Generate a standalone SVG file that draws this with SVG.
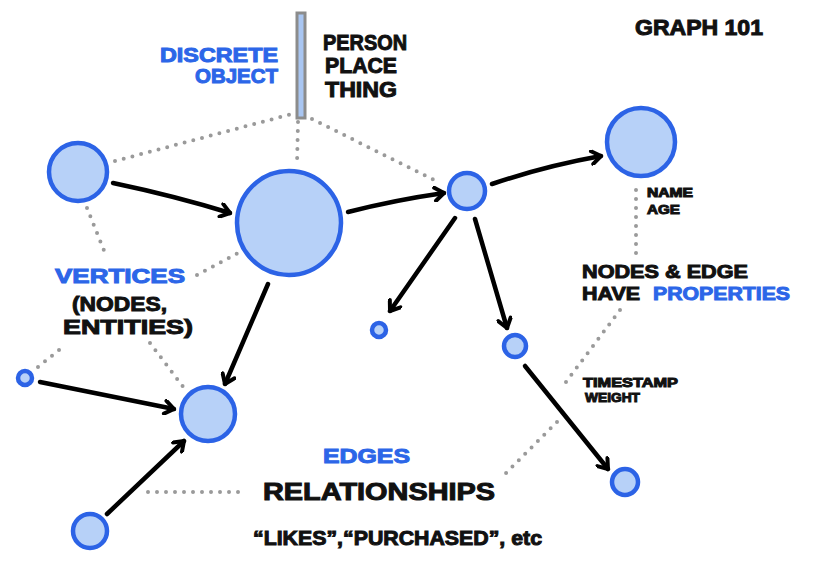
<svg xmlns="http://www.w3.org/2000/svg" width="817" height="578" viewBox="0 0 817 578">
<style>
.node{fill:#b7d1f8;stroke:#2c63e6;stroke-width:4.5}
.edge{fill:none;stroke:#000;stroke-width:4.5;stroke-linecap:round;marker-end:url(#arr)}
.dot{fill:none;stroke:#9a9a9a;stroke-width:4;stroke-linecap:round;stroke-dasharray:0 9}
text{font-family:"Liberation Sans","DejaVu Sans",sans-serif;font-weight:bold;fill:#111;stroke:#111;stroke-width:1}
.blue{fill:#2c66e8;stroke:#2c66e8}
</style>
<defs>
<marker id="arr" viewBox="0 0 16 16" markerWidth="16" markerHeight="16" refX="12" refY="8" orient="auto" markerUnits="userSpaceOnUse">
<path d="M3,1.5 L12,8 L3,14.5" fill="none" stroke="#000" stroke-width="4" stroke-linecap="round" stroke-linejoin="round"/>
</marker>
</defs>
<rect width="817" height="578" fill="#fff"/>

<g id="connectors">
<path class="dot" d="M115,161 L292,114"/>
<path class="dot" d="M298,122 L297,164"/>
<path class="dot" d="M312,119 L440,183"/>
<path class="dot" d="M87,208 L107,258"/>
<path class="dot" d="M197,275 L240,252"/>
<path class="dot" d="M38,367 L64,346"/>
<path class="dot" d="M150,343 L184,388"/>
<path class="dot" d="M636,190 L636,258"/>
<path class="dot" d="M620,310 L563,386"/>
<path class="dot" d="M557,422 L505,474"/>
<path class="dot" d="M148,492 L244,492"/>

<path class="edge" d="M113,183 Q175,196 230,213"/>
<path class="edge" d="M348,212 Q395,200 444,193"/>
<path class="edge" d="M492,184 Q545,166 601,156"/>
<path class="edge" d="M455,218 L390,311"/>
<path class="edge" d="M475,219 L507,328"/>
<path class="edge" d="M268,284 L225,384"/>
<path class="edge" d="M40,382 L174,409"/>
<path class="edge" d="M107,514 L184,441"/>
<path class="edge" d="M525,366 L608,469"/>
</g>

<g id="bar"><rect x="297" y="13" width="8" height="105" fill="#a9c6f2" stroke="#8c8c8c" stroke-width="3"/></g>

<g id="n1"><circle class="node" cx="78" cy="172" r="29"/></g>
<g id="n2"><circle class="node" cx="289" cy="223" r="52"/></g>
<g id="n3"><circle class="node" cx="467" cy="191" r="18"/></g>
<g id="n4"><circle class="node" cx="641" cy="142" r="34"/></g>
<g id="n5"><circle class="node" cx="379" cy="330" r="7"/></g>
<g id="n6"><circle class="node" cx="515" cy="346" r="11"/></g>
<g id="n7"><circle class="node" cx="625" cy="482" r="13"/></g>
<g id="n8"><circle class="node" cx="208" cy="414" r="27"/></g>
<g id="n9"><circle class="node" cx="25" cy="378" r="7"/></g>
<g id="n10"><circle class="node" cx="90" cy="531" r="17"/></g>

<g id="labels">
<text class="blue" x="160" y="62" font-size="20" textLength="118" lengthAdjust="spacingAndGlyphs">DISCRETE</text>
<text class="blue" x="195" y="83" font-size="20" textLength="83" lengthAdjust="spacingAndGlyphs">OBJECT</text>
<text x="323" y="50" font-size="22" textLength="84" lengthAdjust="spacingAndGlyphs">PERSON</text>
<text x="325" y="73" font-size="22" textLength="72" lengthAdjust="spacingAndGlyphs">PLACE</text>
<text x="325" y="97" font-size="22" textLength="72" lengthAdjust="spacingAndGlyphs">THING</text>
<text x="635" y="35" font-size="22" textLength="128" lengthAdjust="spacingAndGlyphs">GRAPH 101</text>
<text x="647" y="197" font-size="12" textLength="46" lengthAdjust="spacingAndGlyphs">NAME</text>
<text x="647" y="214" font-size="13" textLength="33" lengthAdjust="spacingAndGlyphs">AGE</text>
<text x="582" y="278" font-size="19" textLength="166" lengthAdjust="spacingAndGlyphs">NODES &amp; EDGE</text>
<text x="582" y="300" font-size="19" textLength="58" lengthAdjust="spacingAndGlyphs">HAVE</text>
<text class="blue" x="653" y="300" font-size="19" textLength="137" lengthAdjust="spacingAndGlyphs">PROPERTIES</text>
<text class="blue" x="55" y="283" font-size="20" textLength="130" lengthAdjust="spacingAndGlyphs">VERTICES</text>
<text x="72" y="311" font-size="21" textLength="95" lengthAdjust="spacingAndGlyphs">(NODES,</text>
<text x="63" y="334" font-size="21" textLength="130" lengthAdjust="spacingAndGlyphs">ENTITIES)</text>
<text x="583" y="387" font-size="13" textLength="95" lengthAdjust="spacingAndGlyphs">TIMESTAMP</text>
<text x="585" y="402" font-size="13" textLength="55" lengthAdjust="spacingAndGlyphs">WEIGHT</text>
<text class="blue" x="323" y="463" font-size="21" textLength="87" lengthAdjust="spacingAndGlyphs">EDGES</text>
<text x="263" y="500" font-size="24" textLength="232" lengthAdjust="spacingAndGlyphs">RELATIONSHIPS</text>
<text x="253" y="545" font-size="20" textLength="289" lengthAdjust="spacingAndGlyphs">“LIKES”,“PURCHASED”, etc</text>
</g>
</svg>
